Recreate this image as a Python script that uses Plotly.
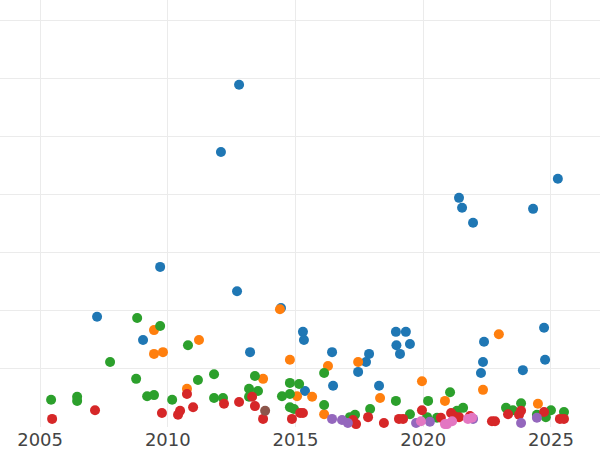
import plotly.graph_objects as go

# decimal years and values per series
blue_x = [2012.79, 2012.08, 2009.70, 2012.71, 2007.23, 2009.03, 2013.22, 2014.43, 2015.29, 2015.33,
          2016.43, 2015.37, 2016.47, 2017.45, 2017.76, 2017.88, 2018.27, 2018.93, 2018.95, 2019.09,
          2019.32, 2019.48, 2021.40, 2021.52, 2021.95, 2022.26, 2022.34, 2022.38, 2023.90, 2024.30,
          2024.73, 2024.77, 2025.27]
blue_y = [5.90, 4.74, 2.76, 2.34, 1.90, 1.50, 1.29, 2.05, 1.64, 1.50,
          1.29, 0.62, 0.71, 0.95, 1.12, 1.26, 0.71, 1.64, 1.41, 1.26,
          1.64, 1.43, 3.95, 3.78, 3.52, 0.93, 1.12, 1.47, 0.98, 3.76,
          1.71, 1.16, 4.28]

orange_x = [2009.46, 2011.22, 2009.46, 2009.81, 2010.75, 2013.73, 2014.78, 2014.39, 2016.27, 2017.45,
            2015.06, 2015.65, 2016.12, 2018.31, 2019.95, 2020.85, 2022.34, 2022.96, 2024.49]
orange_y = [1.67, 1.50, 1.26, 1.29, 0.66, 0.83, 1.16, 2.03, 1.05, 1.12,
            0.53, 0.52, 0.22, 0.50, 0.79, 0.45, 0.64, 1.60, 0.40]

green_x = [2005.43, 2006.45, 2006.45, 2007.74, 2008.80, 2009.70, 2008.76, 2009.19, 2009.46, 2010.17,
           2010.79, 2011.18, 2011.81, 2011.81, 2012.16, 2013.41, 2013.18, 2013.53, 2013.18, 2014.47,
           2014.78, 2015.14, 2014.78, 2014.78, 2014.94, 2016.12, 2016.12, 2017.13, 2017.33, 2017.92,
           2018.93, 2019.48, 2020.19, 2020.15, 2020.54, 2021.05, 2021.32, 2021.56, 2023.24, 2023.51,
           2023.83, 2024.45, 2024.80, 2025.00, 2025.51]
green_y = [0.47, 0.52, 0.45, 1.12, 1.88, 1.74, 0.83, 0.53, 0.55, 0.47,
           1.41, 0.81, 0.91, 0.50, 0.50, 0.88, 0.66, 0.62, 0.52, 0.53,
           0.76, 0.74, 0.57, 0.34, 0.31, 0.93, 0.38, 0.17, 0.21, 0.31,
           0.45, 0.22, 0.45, 0.17, 0.16, 0.60, 0.28, 0.33, 0.33, 0.29,
           0.41, 0.21, 0.17, 0.29, 0.26]

red_x = [2005.47, 2007.15, 2009.77, 2010.48, 2010.40, 2010.75, 2010.99, 2012.20, 2012.79, 2013.30,
         2013.41, 2013.73, 2014.86, 2015.18, 2015.29, 2017.25, 2017.37, 2017.84, 2018.46, 2019.05,
         2019.21, 2019.95, 2020.69, 2021.09, 2021.20, 2021.40, 2021.83, 2022.69, 2022.81, 2023.32,
         2023.75, 2023.83, 2024.73, 2025.35, 2025.51]
red_y = [0.14, 0.29, 0.24, 0.28, 0.21, 0.57, 0.34, 0.40, 0.43, 0.52,
         0.36, 0.14, 0.14, 0.24, 0.24, 0.12, 0.05, 0.17, 0.07, 0.14,
         0.14, 0.29, 0.16, 0.24, 0.19, 0.17, 0.19, 0.10, 0.10, 0.22,
         0.21, 0.28, 0.26, 0.14, 0.14]

purple_x = [2016.43, 2016.82, 2017.05, 2019.72, 2020.26, 2021.95, 2023.83, 2024.45]
purple_y = [0.14, 0.12, 0.07, 0.07, 0.09, 0.14, 0.07, 0.16]

brown_x = [2013.81]
brown_y = [0.28]

pink_x = [2019.91, 2020.85, 2020.93, 2021.13, 2021.75, 2021.91]
pink_y = [0.10, 0.05, 0.05, 0.10, 0.14, 0.16]

tick_vals = [2005, 2010, 2015, 2020, 2025]
tick_text = ["2005", "2010", "2015", "2020", "2025"]

series = [
    ("blue", blue_x, blue_y, "#1f77b4"),
    ("orange", orange_x, orange_y, "#ff7f0e"),
    ("green", green_x, green_y, "#2ca02c"),
    ("red", red_x, red_y, "#d62728"),
    ("purple", purple_x, purple_y, "#9467bd"),
    ("brown", brown_x, brown_y, "#8c564b"),
    ("pink", pink_x, pink_y, "#e377c2"),
]

fig = go.Figure()
for name, xs, ys, col in series:
    fig.add_trace(go.Scatter(x=xs, y=ys, mode="markers", name=name, cliponaxis=False,
                             marker=dict(color=col, size=10)))

fig.update_layout(
    width=600, height=450,
    template="plotly_white",
    showlegend=False,
    margin=dict(l=0, r=0, t=0, b=23),
    font=dict(family="DejaVu Sans", size=18, color="#444"),
    plot_bgcolor="white", paper_bgcolor="white",
)
fig.update_xaxes(range=[2003.43, 2026.92], tickvals=tick_vals, ticktext=tick_text,
                 showgrid=True, gridcolor="#ebebeb", zeroline=False, automargin=False)
fig.update_yaxes(range=[0, 7.36], dtick=1, showticklabels=False, showgrid=True,
                 gridcolor="#ebebeb", zeroline=False, automargin=False)

fig.write_html("out.html", config={"displayModeBar": False},
               post_script="document.body.style.margin='0';")
